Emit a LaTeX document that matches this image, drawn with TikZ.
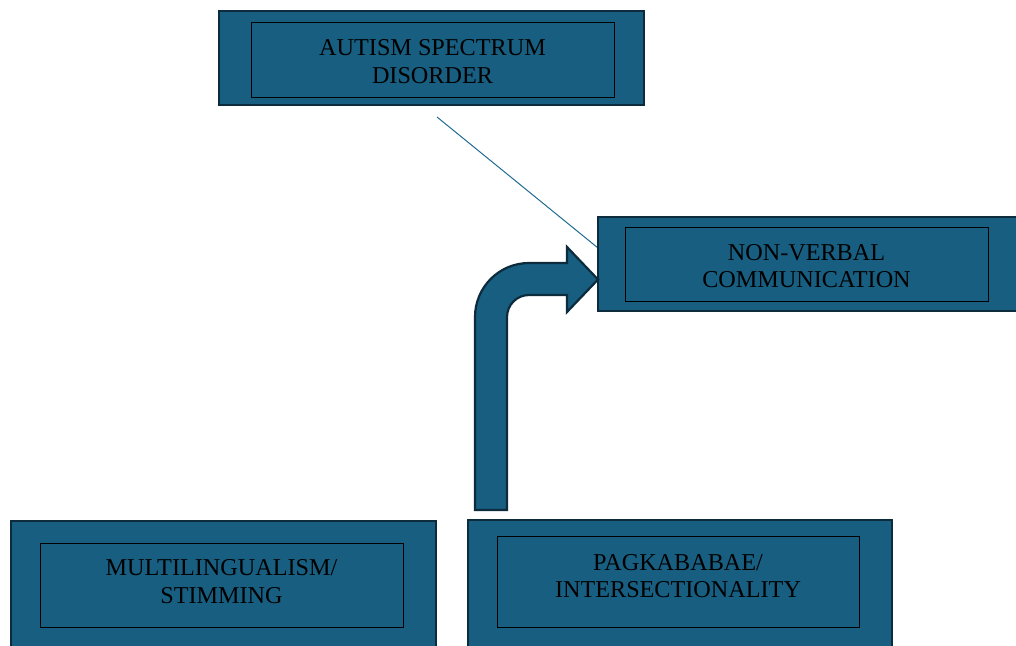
\documentclass[tikz,border=0pt]{standalone}
\usepackage{fontspec}
\setmainfont{Liberation Serif}
\begin{document}
\begin{tikzpicture}[x=1pt,y=-1pt,
  outerbox/.style={draw=outerc, line width=2.4pt, fill=boxc, rectangle, inner sep=0pt},
  innerbox/.style={draw=black, line width=0.9pt, rectangle, inner sep=0pt},
  lbl/.style={font=\fontsize{24.2}{28}\selectfont, text=black, inner sep=0pt, anchor=base},
  link/.style={draw=linkc, line width=1pt},
  bent/.style={draw=outerc, line width=2.2pt, fill=boxc, line join=miter}]
\definecolor{boxc}{HTML}{175E81}
\definecolor{outerc}{HTML}{0C2B3C}
\definecolor{linkc}{HTML}{1F6B93}
\useasboundingbox (0,0) rectangle (1016,645);
\clip (0,0) rectangle (1016,645);
% connector line (behind boxes)
\coordinate (ls) at (437,117);
\coordinate (le) at (598,248);
\draw[link] (ls) -- (le);
% ASD
\node[outerbox, minimum width=425pt, minimum height=94pt] (asdO) at (431.5,58) {};
\node[innerbox, minimum width=363pt, minimum height=75pt] (asd) at (432.5,59.5) {};
\node[lbl] (asdT) at (432.5,55) {AUTISM SPECTRUM};
\node[lbl] (asdT2) at (432.5,83) {DISORDER};
% NVC
\node[outerbox, minimum width=420pt, minimum height=94pt] (nvcO) at (808,264) {};
\node[innerbox, minimum width=363pt, minimum height=74pt] (nvc) at (806.5,264) {};
\node[lbl] (nvcT) at (806.5,260) {NON-VERBAL};
\node[lbl] (nvcT2) at (806.5,287) {COMMUNICATION};
% ML
\node[outerbox, minimum width=425pt, minimum height=140pt] (mlO) at (223.5,591) {};
\node[innerbox, minimum width=363pt, minimum height=84pt] (ml) at (221.5,585) {};
\node[lbl] (mlT) at (221.5,575) {MULTILINGUALISM/};
\node[lbl] (mlT2) at (221.5,603) {STIMMING};
% PAG
\node[outerbox, minimum width=424pt, minimum height=140pt] (pagO) at (680,590) {};
\node[innerbox, minimum width=362pt, minimum height=91pt] (pag) at (678,581.5) {};
\node[lbl] (pagT) at (678,570) {PAGKABABAE/};
\node[lbl] (pagT2) at (678,597) {INTERSECTIONALITY};
% bent arrow
\draw[bent] (475,510) -- (475,317) arc[start angle=180, end angle=270, radius=54]
  -- (567,263) -- (567,247) -- (598,279.5) -- (567,312) -- (567,295) -- (529,295)
  arc[start angle=270, end angle=180, radius=22] -- (507,510) -- cycle;
\end{tikzpicture}
\end{document}
